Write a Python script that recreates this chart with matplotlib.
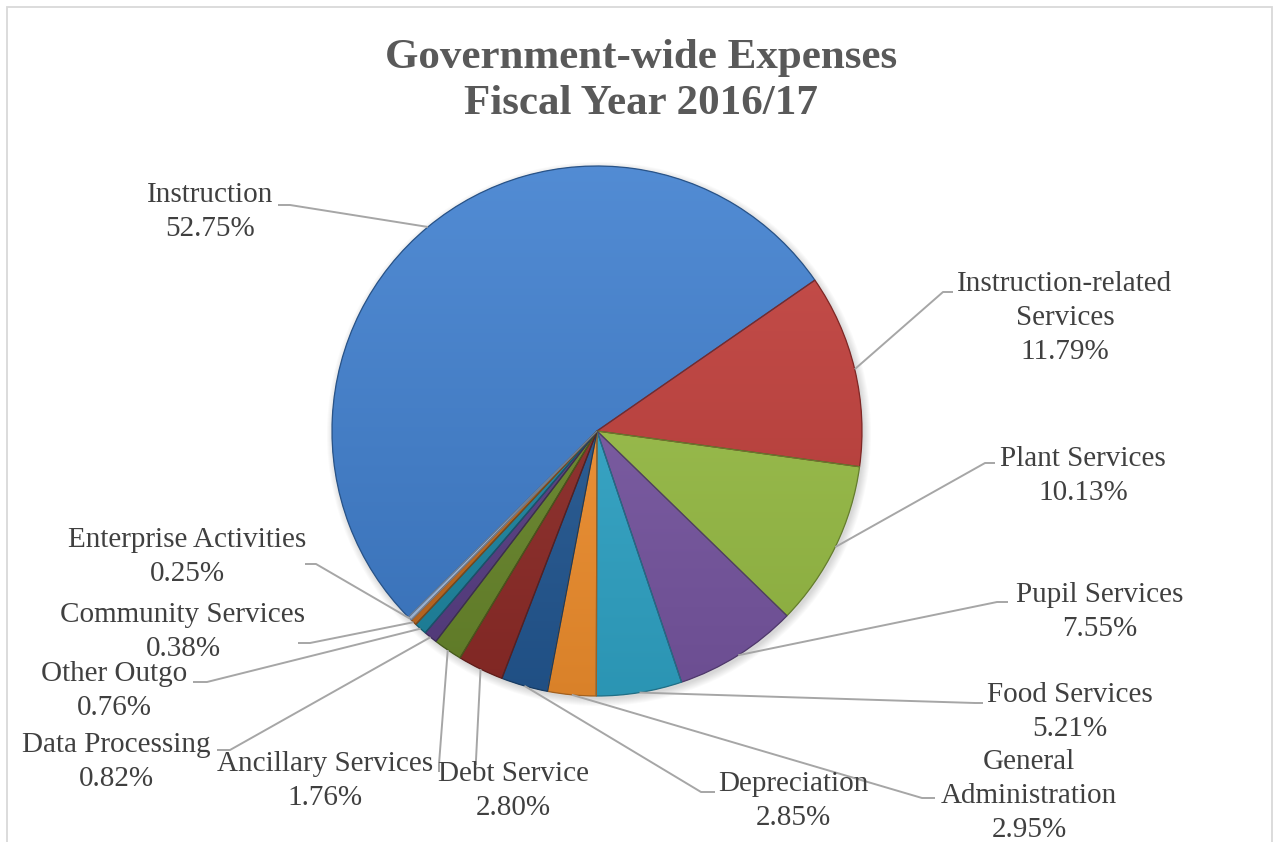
import numpy as np
import matplotlib
matplotlib.use("Agg")
import matplotlib.pyplot as plt
from matplotlib.colors import to_rgb
from matplotlib.patches import Circle, Rectangle, Wedge

W, H = 1276, 842

categories = ["Instruction", "Instruction-related Services", "Plant Services",
              "Pupil Services", "Food Services", "General Administration",
              "Depreciation", "Debt Service", "Ancillary Services",
              "Data Processing", "Other Outgo", "Community Services",
              "Enterprise Activities"]
shares = [52.75, 11.79, 10.13, 7.55, 5.21, 2.95, 2.85, 2.80, 1.76,
          0.82, 0.76, 0.38, 0.25]
title = "Government-wide Expenses\nFiscal Year 2016/17"

slice_colors = ["#3f7fcf", "#c23e3a", "#9bc146", "#7a58a5", "#31a9cc",
                "#f7932f", "#245a96", "#912c28", "#6b8a2c", "#5a3f87",
                "#1e89a5", "#c86c1f", "#a9c3e6"]

wrapped = {"Instruction-related Services": "Instruction-related\nServices",
           "General Administration": "General\nAdministration"}

# pie geometry in pixel space (y measured from the top edge)
CX, CY, R = 597, 431, 265
START = 224.6

# label block centres and the leader path on the text side (top-down pixels)
label_xy = [(210, 212), (1065, 318), (1083, 476), (1100, 612), (1070, 712),
            (1029, 796), (793, 801), (513, 791), (325, 781), (116, 762),
            (114, 691), (183, 632), (187, 557)]
leader_ends = [[(278, 205), (290, 205)],
               [(953, 292), (943, 292)],
               [(995, 463), (985, 463)],
               [(1008, 602), (997, 602)],
               [(983, 703), (975, 703)],
               [(935, 798), (922, 798)],
               [(715, 792), (701, 792)],
               [(476, 765), (476, 760)],
               [(439, 772), (439, 764)],
               [(217, 750), (230, 750)],
               [(193, 682), (207, 682)],
               [(298, 643), (310, 643)],
               [(305, 564), (316, 564)]]


def Y(y):
    return H - y


def shade(c, f):
    r, g, b = to_rgb(c)
    if f >= 0:
        return (r + (1 - r) * f, g + (1 - g) * f, b + (1 - b) * f)
    return (r * (1 + f), g * (1 + f), b * (1 + f))


fig = plt.figure(figsize=(W / 100, H / 100), dpi=100)
ax = fig.add_axes([0, 0, 1, 1])

# chart frame
ax.add_patch(Rectangle((7, -20), 1265, Y(7) + 20, fill=False,
                       edgecolor="#d9d9d9", linewidth=1.3, zorder=0))

# soft drop shadow under the pie
for k in range(8):
    ax.add_patch(Circle((CX + 2, Y(CY) - 3), R + 7 - k, facecolor="#000000",
                        alpha=0.018, edgecolor="none", zorder=1))

wedges, _ = ax.pie(shares, colors=slice_colors, startangle=START,
                   counterclock=False, center=(CX, Y(CY)), radius=R,
                   wedgeprops=dict(linewidth=0), frame=True)

# vertical light-to-dark gradient inside each wedge, with a darker rim
yy = np.linspace(0, 1, 256)[:, None]
for w, c in zip(wedges, slice_colors):
    w.set_zorder(2)
    top = np.array(shade(c, 0.10))
    bot = np.array(shade(c, -0.12))
    grad = top[None, None, :] * (1 - yy[:, :, None]) + bot[None, None, :] * yy[:, :, None]
    grad = np.repeat(grad, 2, axis=1)
    im = ax.imshow(grad, extent=(CX - R, CX + R, Y(CY) - R, Y(CY) + R),
                   origin="upper", aspect="auto", zorder=2.5,
                   interpolation="bilinear")
    im.set_clip_path(w)
    ax.add_patch(Wedge(w.center, w.r, w.theta1, w.theta2, fill=False,
                       edgecolor=shade(c, -0.35), linewidth=0.9, zorder=3))

# leader lines from the wedge rim (at mid angle) to the labels
for w, ends in zip(wedges, leader_ends):
    mid = np.deg2rad((w.theta1 + w.theta2) / 2)
    px = CX + R * np.cos(mid)
    py = Y(CY) + R * np.sin(mid)
    xs = [ends[0][0], ends[1][0], px]
    ys = [Y(ends[0][1]), Y(ends[1][1]), py]
    ax.plot(xs, ys, color="#a6a6a6", linewidth=1.4, zorder=4,
            solid_capstyle="butt")

for name, val, (lx, ly) in zip(categories, shares, label_xy):
    txt = f"{wrapped.get(name, name)}\n{val:.2f}%"
    ax.text(lx, Y(ly), txt, ha="center", va="center", multialignment="center",
            fontsize=21, family="Liberation Serif", color="#404040",
            linespacing=1.4, zorder=5)

ax.text(641, Y(81), title, ha="center", va="center", fontsize=31,
        fontweight="bold", family="Liberation Serif", color="#595959",
        linespacing=1.25, zorder=5)

ax.set_xlim(0, W)
ax.set_ylim(0, H)
ax.set_aspect("auto")
ax.axis("off")

fig.savefig("out.png", dpi=100, facecolor="white")
